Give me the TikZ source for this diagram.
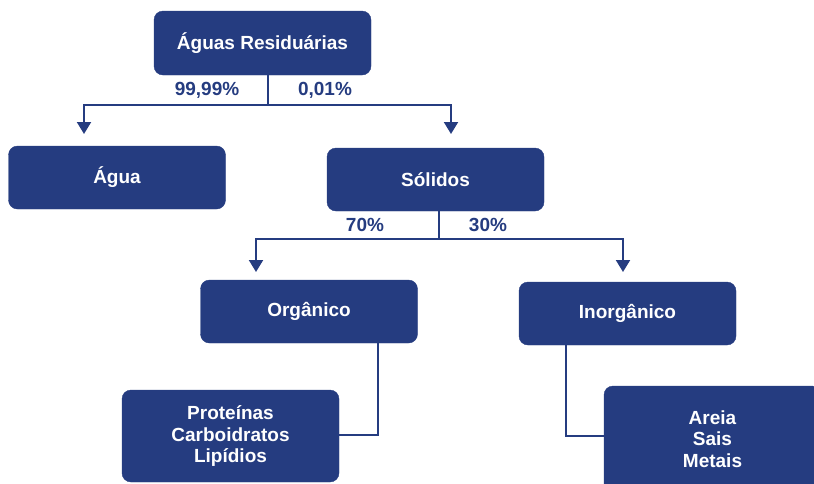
\documentclass[tikz,border=0pt]{standalone}
\usepackage{fontspec}
\setmainfont{Liberation Sans}
\usepackage{tikz}
\usetikzlibrary{arrows.meta}
\definecolor{azul}{RGB}{37,60,128}
\tikzset{>={Triangle[length=12pt,width=14pt]}}
\tikzset{
  caixa/.style={draw=azul, fill=azul, rounded corners=9pt, text=white,
    font=\fontsize{19}{21.7}\selectfont\bfseries, align=center,
    minimum width=217pt, minimum height=63pt, inner sep=0pt},
  ligacao/.style={draw=azul, line width=2pt},
  perc/.style={text=azul, font=\fontsize{19}{22}\selectfont\bfseries}
}

\begin{document}
\begin{tikzpicture}[x=1pt, y=-1pt]
  \useasboundingbox (0,0) rectangle (814,483);
  \clip (0,0) rectangle (814,483);
  % caixas
  \node[caixa, minimum height=64pt] (residuais) at (262.5,43) {Águas Residuárias};
  \node[caixa] (agua) at (117,177.5) {\raisebox{-3pt}{Água}};
  \node[caixa] (solidos) at (435.5,179.5) {\raisebox{-1pt}{Sólidos}};
  \node[caixa] (organico) at (309,311.5) {\raisebox{-1pt}{Orgânico}};
  \node[caixa] (inorganico) at (627.5,313.5) {\raisebox{-3pt}{Inorgânico}};
  \node[caixa, minimum height=92pt] (proteinas) at (230.5,436) {Proteínas\\Carboidratos\\Lipídios};
  \node[caixa, minimum height=106pt] (areia) at (712.5,439) {Areia\\Sais\\Metais};
  % pontos de ramificacao
  \coordinate (r1) at (267.5,104.5);
  \coordinate (r1e) at (84,134);
  \coordinate (r1d) at (451,134);
  \coordinate (r2) at (439,239);
  \coordinate (r2e) at (256,272);
  \coordinate (r2d) at (623,272);
  \coordinate (c1) at (378,435);
  \coordinate (c2) at (566,436);
  % ligacoes
  \draw[ligacao] (residuais.south -| r1) -- (r1);
  \draw[ligacao, ->] (r1) -| (r1e);
  \draw[ligacao, ->] (r1) -| (r1d);
  \draw[ligacao] (solidos.south -| r2) -- (r2);
  \draw[ligacao, ->] (r2) -| (r2e);
  \draw[ligacao, ->] (r2) -| (r2d);
  \draw[ligacao] (organico.south -| c1) -- (c1) -- (c1 -| proteinas.east);
  \draw[ligacao] (inorganico.south -| c2) -- (c2) -- (c2 -| areia.west);
  % percentagens
  \node[perc] (p1) at (207,90) {99,99\%};
  \node[perc] (p2) at (325,90) {0,01\%};
  \node[perc] (p3) at (365,225) {70\%};
  \node[perc] (p4) at (488,225) {30\%};
\end{tikzpicture}
\end{document}
